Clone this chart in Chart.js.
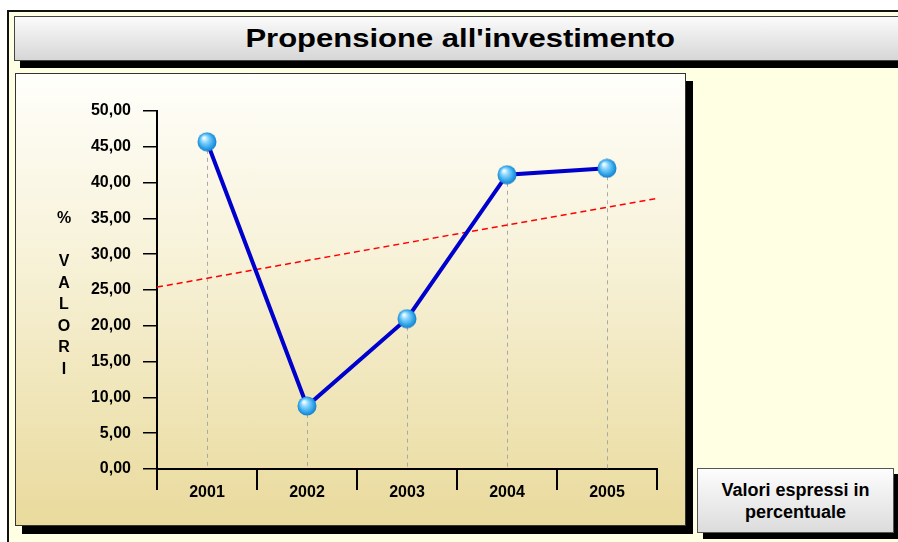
<!DOCTYPE html>
<html>
<head>
<meta charset="utf-8">
<script src="https://cdn.jsdelivr.net/npm/chart.js@4.4.1/dist/chart.umd.min.js"></script>
<style>
  body { margin: 0; background: #fff; width: 898px; height: 542px; overflow: hidden; position: relative; font-family: "Liberation Sans", Arial, sans-serif; }
  #frame { position: absolute; left: 7px; top: 10px; width: 900px; height: 540px; border: 2px solid #111; background: #ffffe4; }
  #titolo { position: absolute; left: 14px; top: 16px; width: 890px; height: 43px; border: 1px solid #444;
    background: linear-gradient(#fbfbfb, #d6d6d6); box-shadow: 6px 7px 0 #000; text-align: center; }
  #titolo span { display: inline-block; font-weight: bold; font-size: 25px; line-height: 43px; transform: scaleX(1.24); color: #000; }
  #pannello { position: absolute; left: 15px; top: 73px; width: 669px; height: 451px; border: 1px solid #333;
    background: linear-gradient(#fffffb, #f6f0d4 45%, #e9da9c); box-shadow: 7px 8px 0 #000; }
  #asse { position: absolute; left: 54px; top: 207px; width: 20px; text-align: center; font-weight: bold; font-size: 16px; line-height: 21.5px; }
  #nota { position: absolute; left: 697px; top: 468px; width: 195px; height: 63px; border: 1px solid #555;
    background: linear-gradient(#fdfdfd, #dcdcdc); box-shadow: 6px 6px 0 #000; text-align: center;
    font-weight: bold; font-size: 18px; line-height: 22px; display: flex; align-items: center; justify-content: center; }
</style>
</head>
<body>
<div id="frame"></div>
<div id="titolo"><span>Propensione all'investimento</span></div>
<div id="pannello"><canvas id="grafico" width="669" height="451"></canvas></div>
<div id="asse">%<br>&nbsp;<br>V<br>A<br>L<br>O<br>R<br>I</div>
<div id="nota"><div>Valori espressi in<br>percentuale</div></div>
<script>
const anni = ['2001', '2002', '2003', '2004', '2005'];
const valori = [45.7, 8.8, 21.0, 41.1, 42.0];
const trendX = [0.5, 5.5];
const trendY = [25.4, 37.8];
const yTicks = [0, 5, 10, 15, 20, 25, 30, 35, 40, 45, 50];

// sfera azzurra per i punti
const sfera = document.createElement('canvas');
sfera.width = 20; sfera.height = 20;
const sc = sfera.getContext('2d');
const g = sc.createRadialGradient(7, 6, 1, 10, 10, 10);
g.addColorStop(0, '#eafaff');
g.addColorStop(0.3, '#86d4ff');
g.addColorStop(0.75, '#2a9fe6');
g.addColorStop(1, '#1576c4');
sc.fillStyle = g;
sc.beginPath(); sc.arc(10, 10, 9.5, 0, Math.PI * 2); sc.fill();

const lineeVerticali = {
  id: 'lineeVerticali',
  beforeDatasetsDraw(chart) {
    const ctx = chart.ctx;
    const meta = chart.getDatasetMeta(0);
    const fondo = chart.chartArea.bottom;
    ctx.save();
    ctx.strokeStyle = '#a8a8a8';
    ctx.lineWidth = 1;
    ctx.setLineDash([4, 4]);
    meta.data.forEach(p => {
      ctx.beginPath();
      ctx.moveTo(Math.round(p.x) + 0.5, p.y);
      ctx.lineTo(Math.round(p.x) + 0.5, fondo);
      ctx.stroke();
    });
    ctx.restore();
  }
};

const font = { family: '"Liberation Sans", Arial, sans-serif', size: 16, weight: 'bold' };

new Chart(document.getElementById('grafico'), {
  type: 'line',
  data: {
    labels: anni,
    datasets: [{
      data: valori,
      borderColor: '#0000cc',
      borderWidth: 4,
      pointStyle: sfera,
      pointRadius: 9,
      tension: 0
    }, {
      data: trendX.map((x, i) => ({ x: x, y: trendY[i] })),
      xAxisID: 'xt',
      borderColor: '#ff0000',
      borderWidth: 1.5,
      borderDash: [6, 4],
      pointRadius: 0,
      tension: 0
    }]
  },
  options: {
    responsive: false,
    animation: false,
    layout: { padding: { top: 37, right: 28, left: 0, bottom: 0 } },
    plugins: { legend: { display: false }, tooltip: { enabled: false } },
    scales: {
      x: {
        type: 'category',
        offset: true,
        afterFit(s) { s.height = 56; },
        grid: { offset: true, drawOnChartArea: false, tickLength: 21, color: '#000', lineWidth: 2 },
        border: { color: '#000', width: 2 },
        ticks: { color: '#000', font: font, padding: -7, maxRotation: 0 }
      },
      xt: {
        type: 'linear',
        display: false,
        min: trendX[0],
        max: trendX[1]
      },
      y: {
        min: yTicks[0],
        max: yTicks[yTicks.length - 1],
        afterFit(s) { s.width = 141; },
        afterBuildTicks(s) { s.ticks = yTicks.map(v => ({ value: v })); },
        grid: { drawOnChartArea: false, tickLength: 14, color: '#000', lineWidth: 1.5 },
        border: { color: '#000', width: 2 },
        ticks: {
          color: '#000', font: font, padding: 12,
          callback: v => v.toFixed(2).replace('.', ',')
        }
      }
    }
  },
  plugins: [lineeVerticali]
});
</script>
</body>
</html>
